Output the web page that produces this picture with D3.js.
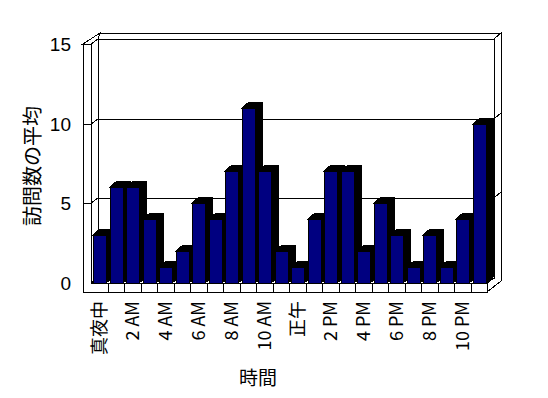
<!DOCTYPE html>
<html>
<head>
<meta charset="utf-8">
<script src="https://cdn.jsdelivr.net/npm/d3@7"></script>
<style>
  body { margin: 0; background: #fff; }
  text { font-family: "Noto Sans CJK JP", "Liberation Sans", sans-serif; fill: #000; }
</style>
</head>
<body>
<div id="chart"></div>
<script>
// hours of the day, visits average per hour
var hours = [0, 1, 2, 3, 4, 5, 6, 7, 8, 9, 10, 11, 12, 13, 14, 15, 16, 17, 18, 19, 20, 21, 22, 23];
var visits = [3, 6, 6, 4, 1, 2, 5, 4, 7, 11, 7, 2, 1, 4, 7, 7, 2, 5, 3, 1, 3, 1, 4, 10];
var tickHours = [0, 2, 4, 6, 8, 10, 12, 14, 16, 18, 20, 22];
var tickLabels = ["真夜中", "2 AM", "4 AM", "6 AM", "8 AM", "10 AM", "正午", "2 PM", "4 PM", "6 PM", "8 PM", "10 PM"];
var yTicks = [0, 5, 10, 15];

var W = 548, H = 398;
var xL = 91, xR = 487, y0 = 283, yT = 44;
var D = {x: 7, y: -5};      // depth of the plot box
var T = {x: 7, y: -6};      // back wall thickness
var wallX = 83, floorB = 292;

var svg = d3.select("#chart").append("svg")
    .attr("width", W).attr("height", H);

var x = d3.scaleBand().domain(hours).range([xL, xR]).padding(0);
var y = d3.scaleLinear().domain([0, 15]).range([y0, yT]);

var frame = svg.append("g")
    .attr("fill", "#fff")
    .attr("stroke", "#000")
    .attr("stroke-width", 1)
    .attr("shape-rendering", "crispEdges");

function poly(pts) {
    return "M" + pts.map(function(p) { return p[0] + "," + p[1]; }).join("L") + "Z";
}

var bx = xR + D.x, by = yT + D.y;   // back wall inner corner
var ox = bx + T.x, oy = by + T.y;   // back wall outer
// back wall top face
frame.append("path").attr("d", poly([[xL + D.x, by], [bx, by], [ox, oy], [xL + D.x + 2, oy]]));
// right side of back wall and floor
frame.append("path").attr("d", poly([[xR, y0], [xR, floorB], [ox, floorB + D.y + T.y], [ox, oy], [bx, by], [bx, y0 + D.y]]));
// back wall face
frame.append("rect").attr("x", xL + D.x).attr("y", by).attr("width", bx - xL - D.x).attr("height", y0 - yT);
// left wall inner face
frame.append("path").attr("d", poly([[xL, yT], [xL + D.x, by], [xL + D.x, y0 + D.y], [xL, y0]]));
// left wall top face
frame.append("path").attr("d", poly([[wallX, yT], [xL, yT], [xL + D.x, by], [xL + D.x + 2, oy]]));
// floor top
frame.append("path").attr("d", poly([[xL, y0], [xR, y0], [bx, y0 + D.y], [xL + D.x, y0 + D.y]]));
// left wall front + floor front
frame.append("path").attr("d", poly([[wallX, yT], [xL, yT], [xL, y0], [xR, y0], [xR, floorB], [wallX, floorB]]));

// gridlines
var grid = svg.append("g").attr("stroke", "#000").attr("fill", "none")
    .attr("shape-rendering", "crispEdges");
[5, 10].forEach(function(v) {
    var yy = Math.round(y(v));
    grid.append("path").attr("d",
        "M" + wallX + "," + yy + "L" + xL + "," + yy +
        "L" + (xL + D.x) + "," + (yy + D.y) + "L" + bx + "," + (yy + D.y) +
        "L" + ox + "," + (yy + D.y + T.y));
});

// floor front dividers
grid.selectAll(".div").data(hours.slice(1)).enter().append("line")
    .attr("x1", function(d) { return Math.round(x(d)); })
    .attr("x2", function(d) { return Math.round(x(d)); })
    .attr("y1", y0).attr("y2", floorB);

// bars
var bw = 13, bo = 2, bd = {x: 7, y: -6};
var bars = svg.append("g").selectAll("g").data(hours).enter().append("g")
    .attr("shape-rendering", "crispEdges");
bars.append("path")
    .attr("fill", "#000").attr("stroke", "#000")
    .attr("d", function(d, i) {
        var x0 = Math.round(x(d)) + bo, x1 = x0 + bw, yy = Math.round(y(visits[i]));
        return poly([[x0, yy], [x0 + bd.x, yy + bd.y], [x1 + bd.x, yy + bd.y], [x1 + bd.x, y0 + bd.y], [x1, y0], [x1, yy]]);
    });
bars.append("rect")
    .attr("fill", "#000080").attr("stroke", "#000")
    .attr("x", function(d) { return Math.round(x(d)) + bo; })
    .attr("y", function(d, i) { return Math.round(y(visits[i])); })
    .attr("width", bw)
    .attr("height", function(d, i) { return y0 - Math.round(y(visits[i])); });

// y axis labels
var yAxis = svg.append("g")
    .attr("transform", "translate(" + (wallX - 12) + ",0)")
    .call(d3.axisLeft(y).tickValues(yTicks).tickSize(0).tickPadding(0));
yAxis.select(".domain").remove();
yAxis.selectAll("text").style("font-size", "19px")
    .style("font-family", "'Liberation Sans', sans-serif").attr("dy", "0.35em");

// x axis labels
var labelMap = {};
tickHours.forEach(function(h, i) { labelMap[h] = tickLabels[i]; });
var xAxis = svg.append("g")
    .attr("transform", "translate(0," + (floorB + 9) + ")")
    .call(d3.axisBottom(x).tickValues(tickHours).tickSize(0).tickPadding(0)
        .tickFormat(function(d) { return labelMap[d]; }));
xAxis.select(".domain").remove();
xAxis.selectAll("text")
    .style("font-size", "18px")
    .attr("text-anchor", "end")
    .attr("transform", "rotate(-90)")
    .attr("x", 0).attr("y", 0).attr("dy", "0.35em");

// titles
svg.append("text")
    .attr("transform", "translate(31,166) rotate(-90)")
    .attr("text-anchor", "middle").attr("dominant-baseline", "central")
    .style("font-size", "20px")
    .text("訪問数の平均");
svg.append("text")
    .attr("x", 258).attr("y", 376)
    .attr("text-anchor", "middle").attr("dominant-baseline", "central")
    .style("font-size", "19px")
    .text("時間");
</script>
</body>
</html>
